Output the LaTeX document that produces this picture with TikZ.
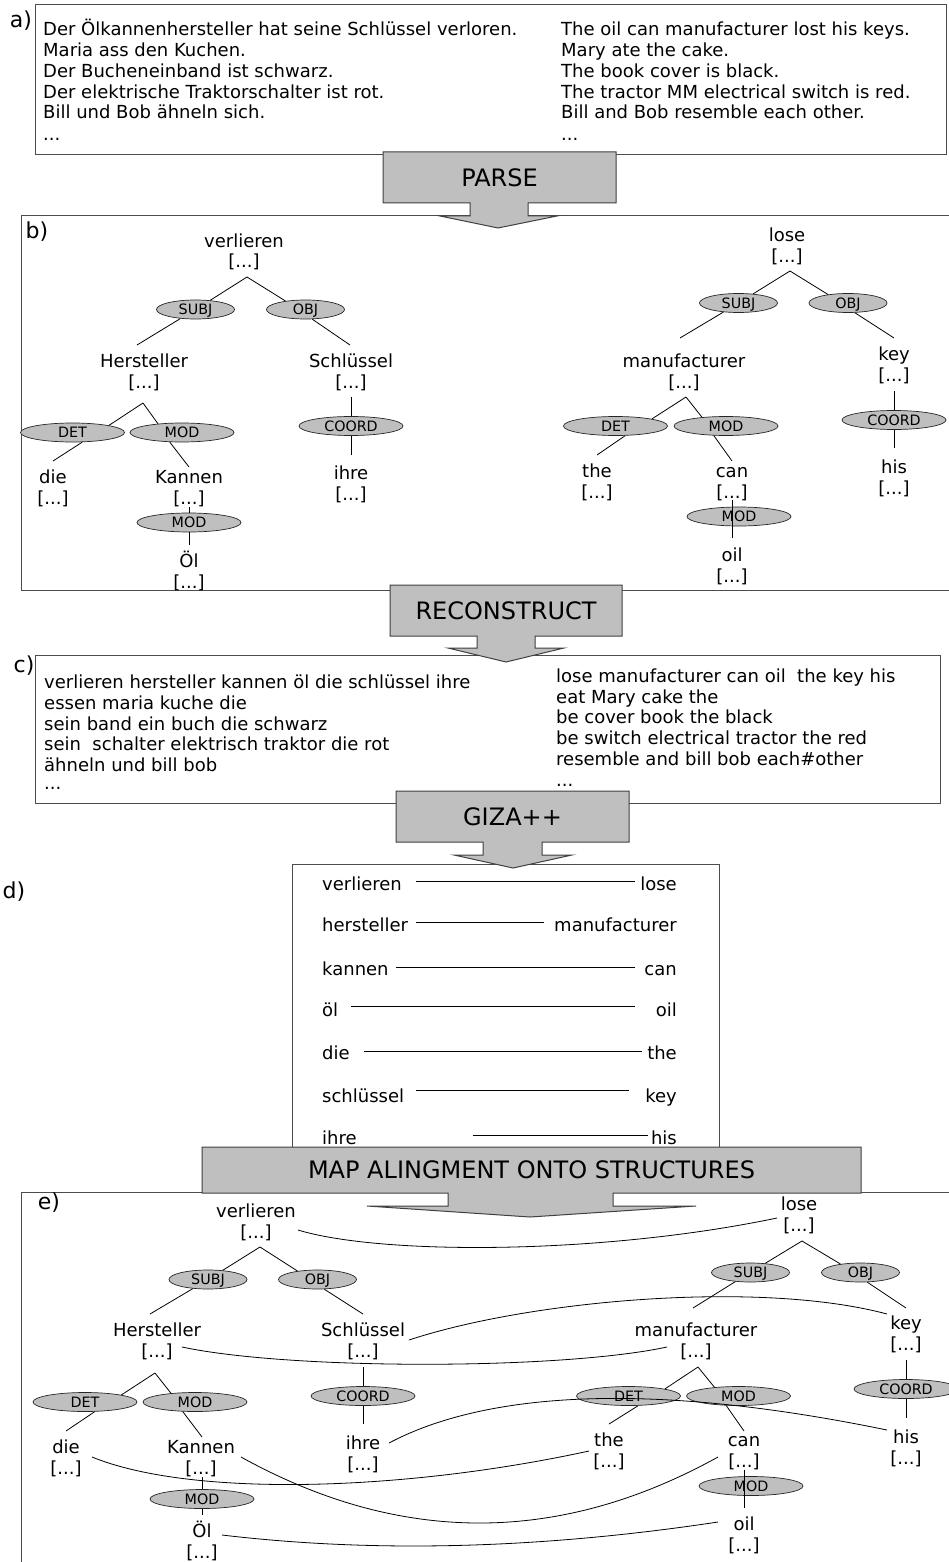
\documentclass[tikz,border=0pt]{standalone}
\usepackage{fontspec}
\setmainfont{DejaVu Sans}
\usetikzlibrary{shapes.geometric,calc}

\tikzset{
  boxline/.style={draw=black!70, line width=1pt},
  seclabel/.style={inner sep=0pt, font=\fontsize{22}{26}\selectfont},
  txt/.style={inner sep=0pt, anchor=base west, font=\fontsize{18}{21}\selectfont},
  wd/.style={inner sep=0pt, anchor=base, font=\fontsize{18}{21}\selectfont},
  dl/.style={inner sep=0pt, anchor=base west, font=\fontsize{18}{21}\selectfont},
  dr/.style={inner sep=0pt, anchor=base east, font=\fontsize{18}{21}\selectfont},
  rel/.style={ellipse, draw=black!85, fill=black!25, line width=0.7pt, inner sep=0pt,
              text height=10pt, text depth=0pt, font=\fontsize{14.3}{16}\selectfont},
  relS/.style={rel, minimum width=78pt, minimum height=19pt},
  relL/.style={rel, minimum width=104pt, minimum height=19pt},
  treeln/.style={line width=0.8pt},
  alink/.style={line width=0.8pt},
  steparrow/.style={fill=black!25, draw=black!75, line width=1pt, line join=miter},
  steplabel/.style={inner sep=0pt, font=\fontsize{24}{28}\selectfont}
}

\begin{document}
\begin{tikzpicture}[x=1pt,y=-1pt]
\useasboundingbox (0,0) rectangle (949,1562);
\fill[white] (0,0) rectangle (949,1562);

% ---------------- a) corpus ----------------
\draw[boxline] (35,5) rectangle (946,155);
\node[seclabel] (la) at (21,21) {a)};
\node[txt] (a1) at (43,36) {Der Ölkannenhersteller hat seine Schlüssel verloren.};
\node[txt] (a2) at (43,56.7) {Maria ass den Kuchen.};
\node[txt] (a3) at (43,77.4) {Der Bucheneinband ist schwarz.};
\node[txt] (a4) at (43,98.1) {Der elektrische Traktorschalter ist rot.};
\node[txt] (a5) at (43,118.8) {Bill und Bob ähneln sich.};
\node[txt] (a6) at (43,141) {...};
\node[txt] (e1) at (561,36) {The oil can manufacturer lost his keys.};
\node[txt] (e2) at (561,56.7) {Mary ate the cake.};
\node[txt] (e3) at (561,77.4) {The book cover is black.};
\node[txt] (e4) at (561,98.1) {The tractor MM electrical switch is red.};
\node[txt] (e5) at (561,118.8) {Bill and Bob resemble each other.};
\node[txt] (e6) at (561,141) {...};

% ---------------- b) parses ----------------
\draw[boxline] (949,216) -- (21,216) -- (21,590) -- (949,590);
\node[seclabel] (lb) at (37,232) {b)};

% German tree
\node[wd] (bVerl)  at (244,247.5) {verlieren};
\node[wd] (bVerlB) at (244,268)   {[...]};
\node[wd] (bHer)   at (144,367.5) {Hersteller};
\node[wd] (bHerB)  at (144,388)   {[...]};
\node[wd] (bSchl)  at (351,367.5) {Schlüssel};
\node[wd] (bSchlB) at (351,388)   {[...]};
\node[wd] (bDie)   at (53,483.5)  {die};
\node[wd] (bDieB)  at (53,504)    {[...]};
\node[wd] (bKan)   at (189,483.5) {Kannen};
\node[wd] (bKanB)  at (189,504)   {[...]};
\node[wd] (bIhre)  at (351,479.5) {ihre};
\node[wd] (bIhreB) at (351,500.5) {[...]};
\node[wd] (bOel)   at (189,567.5) {Öl};
\node[wd] (bOelB)  at (189,588)   {[...]};

\coordinate (bVerl-a) at (247,277);
\coordinate (bHer-t)  at (137,345);
\coordinate (bSchl-t) at (350,345);
\coordinate (bHer-a)  at (143,403);
\coordinate (bDie-t)  at (53,461);
\coordinate (bKan-t)  at (189,467);
\coordinate (bSchl-b) at (351,397);
\coordinate (bIhre-t) at (351,455);
\coordinate (bKan-b)  at (189,507);
\coordinate (bOel-t)  at (189,545);

\node[relS] (bSubj)  at (195.5,309.5) {SUBJ};
\node[relS] (bObj)   at (305.5,309.5) {OBJ};
\node[relL] (bDet)   at (72.5,432.5)  {DET};
\node[relL] (bMod)   at (182,432.5)   {MOD};
\node[relL] (bCoord) at (351,426)     {COORD};
\node[relL] (bModB)  at (189,522.5)   {MOD};

\draw[treeln] (bVerl-a) -- (bSubj.32);
\draw[treeln] (bVerl-a) -- (bObj.157);
\draw[treeln] (bSubj.211) -- (bHer-t);
\draw[treeln] (bObj.305) -- (bSchl-t);
\draw[treeln] (bHer-a) -- (bDet.11.5);
\draw[treeln] (bHer-a) -- (bMod.160);
\draw[treeln] (bDet.315) -- (bDie-t);
\draw[treeln] (bMod.218) -- (bKan-t);
\draw[treeln] (bSchl-b) -- (bCoord.north);
\draw[treeln] (bCoord.south) -- (bIhre-t);
\draw[treeln] (bKan-b) -- (bModB.north);
\draw[treeln] (bModB.south) -- (bOel-t);

% English tree
\node[wd] (bLose)  at (787,241.5) {lose};
\node[wd] (bLoseB) at (787,262.5) {[...]};
\node[wd] (bManu)  at (684,367.5) {manufacturer};
\node[wd] (bManuB) at (684,388)   {[...]};
\node[wd] (bKey)   at (894,360.5) {key};
\node[wd] (bKeyB)  at (894,381.5) {[...]};
\node[wd] (bThe)   at (597,477.5) {the};
\node[wd] (bTheB)  at (597,498)   {[...]};
\node[wd] (bCan)   at (732,477.5) {can};
\node[wd] (bCanB)  at (732,498)   {[...]};
\node[wd] (bHis)   at (894,473.5) {his};
\node[wd] (bHisB)  at (894,494)   {[...]};
\node[wd] (bOil)   at (732,561.5) {oil};
\node[wd] (bOilB)  at (732,582)   {[...]};

\coordinate (bLose-a) at (790,271);
\coordinate (bManu-t) at (680,338);
\coordinate (bKey-t)  at (894,338);
\coordinate (bManu-a) at (686,397);
\coordinate (bThe-t)  at (597,455);
\coordinate (bCan-t)  at (732,461);
\coordinate (bKey-b)  at (894,391);
\coordinate (bHis-t)  at (894,448);
\coordinate (bCan-b)  at (732,500);
\coordinate (bOil-t)  at (732,538);

\node[relS] (bSubjR)  at (738.5,303) {SUBJ};
\node[relS] (bObjR)   at (848,303)   {OBJ};
\node[relL] (bDetR)   at (615.5,426) {DET};
\node[relL] (bModR)   at (726,426)   {MOD};
\node[relL] (bCoordR) at (894,420)   {COORD};
\node[relL] (bModRB)  at (739,516.5) {MOD};

\draw[treeln] (bLose-a) -- (bSubjR.32);
\draw[treeln] (bLose-a) -- (bObjR.157);
\draw[treeln] (bSubjR.211) -- (bManu-t);
\draw[treeln] (bObjR.305) -- (bKey-t);
\draw[treeln] (bManu-a) -- (bDetR.11.5);
\draw[treeln] (bManu-a) -- (bModR.160);
\draw[treeln] (bDetR.315) -- (bThe-t);
\draw[treeln] (bModR.218) -- (bCan-t);
\draw[treeln] (bKey-b) -- (bCoordR.north);
\draw[treeln] (bCoordR.south) -- (bHis-t);
\draw[treeln] (bCan-b) -- (bOil-t);

% ---------------- c) reconstructed sentences ----------------
\draw[boxline] (35,655) rectangle (940,803);
\node[seclabel] (lc) at (24,666) {c)};
\node[txt] (c1) at (44,688.5) {verlieren hersteller kannen öl die schlüssel ihre};
\node[txt] (c2) at (44,709.3) {essen maria kuche die};
\node[txt] (c3) at (44,730.1) {sein band ein buch die schwarz};
\node[txt] (c4) at (44,750.9) {sein~ schalter elektrisch traktor die rot};
\node[txt] (c5) at (44,771.7) {ähneln und bill bob};
\node[txt] (c6) at (44,789)   {...};
\node[txt] (f1) at (556,682)   {lose manufacturer can oil~ the key his};
\node[txt] (f2) at (556,703)   {eat Mary cake the};
\node[txt] (f3) at (556,723.8) {be cover book the black};
\node[txt] (f4) at (556,744.6) {be switch electrical tractor the red};
\node[txt] (f5) at (556,765.4) {resemble and bill bob each\#other};
\node[txt] (f6) at (556,786)   {...};

% ---------------- d) word alignment ----------------
\draw[boxline] (292,1170) -- (292,864) -- (719,864) -- (719,1170);
\node[seclabel] (ld) at (14,892) {d)};
\node[dl] (dL1) at (322,890)  {verlieren};
\node[dl] (dL2) at (322,931)  {hersteller};
\node[dl] (dL3) at (322,975)  {kannen};
\node[dl] (dL4) at (322,1016) {öl};
\node[dl] (dL5) at (322,1059) {die};
\node[dl] (dL6) at (322,1102) {schlüssel};
\node[dl] (dL7) at (322,1144) {ihre};
\node[dr] (dR1) at (677,890)  {lose};
\node[dr] (dR2) at (677,931)  {manufacturer};
\node[dr] (dR3) at (677,975)  {can};
\node[dr] (dR4) at (677,1016) {oil};
\node[dr] (dR5) at (677,1059) {the};
\node[dr] (dR6) at (677,1102) {key};
\node[dr] (dR7) at (677,1144) {his};
\draw[alink] ($(dL1.base west)+(94,-9)$)  -- ($(dR1.base east)+(-42,-9)$);
\draw[alink] ($(dL2.base west)+(94,-9)$)  -- ($(dR2.base east)+(-133,-9)$);
\draw[alink] ($(dL3.base west)+(74,-8)$)  -- ($(dR3.base east)+(-42,-8)$);
\draw[alink] ($(dL4.base west)+(29,-10)$) -- ($(dR4.base east)+(-42,-10)$);
\draw[alink] ($(dL5.base west)+(42,-8)$)  -- ($(dR5.base east)+(-35,-8)$);
\draw[alink] ($(dL6.base west)+(94,-12)$) -- ($(dR6.base east)+(-48,-12)$);
\draw[alink] ($(dL7.base west)+(151,-9)$) -- ($(dR7.base east)+(-29,-9)$);

% ---------------- e) alignment mapped onto the trees ----------------
\draw[boxline] (949,1192) -- (21,1192) -- (21,1570);
\node[seclabel] (le) at (49,1203) {e)};

% German tree
\node[wd] (eVerl)  at (256,1217.5) {verlieren};
\node[wd] (eVerlB) at (256,1238)   {[...]};
\node[wd] (eHer)   at (157,1336.5) {Hersteller};
\node[wd] (eHerB)  at (157,1357)   {[...]};
\node[wd] (eSchl)  at (363,1336.5) {Schlüssel};
\node[wd] (eSchlB) at (363,1357)   {[...]};
\node[wd] (eDie)   at (66,1453.5)  {die};
\node[wd] (eDieB)  at (66,1474)    {[...]};
\node[wd] (eKan)   at (201,1453.5) {Kannen};
\node[wd] (eKanB)  at (201,1474)   {[...]};
\node[wd] (eIhre)  at (363,1449.5) {ihre};
\node[wd] (eIhreB) at (363,1470)   {[...]};
\node[wd] (eOel)   at (202,1537.5) {Öl};
\node[wd] (eOelB)  at (202,1558)   {[...]};

\coordinate (eVerl-a) at (260,1247);
\coordinate (eHer-t)  at (150,1314);
\coordinate (eSchl-t) at (363,1314);
\coordinate (eHer-a)  at (155,1373);
\coordinate (eDie-t)  at (66,1431);
\coordinate (eKan-t)  at (202,1437);
\coordinate (eSchl-b) at (363,1367);
\coordinate (eIhre-t) at (363,1424);
\coordinate (eKan-b)  at (202,1477);
\coordinate (eOel-t)  at (202,1515);

\node[relS] (eSubj)  at (208,1279.5)   {SUBJ};
\node[relS] (eObj)   at (317.5,1279.5) {OBJ};
\node[relL] (eDet)   at (85,1402)      {DET};
\node[relL] (eMod)   at (195,1402)     {MOD};
\node[relL] (eCoord) at (363,1396)     {COORD};
\node[relL] (eModB)  at (202,1499)     {MOD};

\draw[treeln] (eVerl-a) -- (eSubj.32);
\draw[treeln] (eVerl-a) -- (eObj.157);
\draw[treeln] (eSubj.211) -- (eHer-t);
\draw[treeln] (eObj.305) -- (eSchl-t);
\draw[treeln] (eHer-a) -- (eDet.11.5);
\draw[treeln] (eHer-a) -- (eMod.160);
\draw[treeln] (eDet.315) -- (eDie-t);
\draw[treeln] (eMod.218) -- (eKan-t);
\draw[treeln] (eSchl-b) -- (eCoord.north);
\draw[treeln] (eCoord.south) -- (eIhre-t);
\draw[treeln] (eKan-b) -- (eModB.north);
\draw[treeln] (eModB.south) -- (eOel-t);

% English tree
\node[wd] (eLose)  at (799,1210.5) {lose};
\node[wd] (eLoseB) at (799,1231.5) {[...]};
\node[wd] (eManu)  at (696,1336.5) {manufacturer};
\node[wd] (eManuB) at (696,1357.5) {[...]};
\node[wd] (eKey)   at (906,1329.5) {key};
\node[wd] (eKeyB)  at (906,1350)   {[...]};
\node[wd] (eThe)   at (609,1446.5) {the};
\node[wd] (eTheB)  at (609,1467.5) {[...]};
\node[wd] (eCan)   at (744,1446.5) {can};
\node[wd] (eCanB)  at (744,1467.5) {[...]};
\node[wd] (eHis)   at (906,1443.5) {his};
\node[wd] (eHisB)  at (906,1464)   {[...]};
\node[wd] (eOil)   at (744,1530.5) {oil};
\node[wd] (eOilB)  at (744,1551.5) {[...]};

\coordinate (eLose-a) at (802,1241);
\coordinate (eManu-t) at (693,1308);
\coordinate (eKey-t)  at (906,1308);
\coordinate (eManu-a) at (698,1367);
\coordinate (eThe-t)  at (609,1424);
\coordinate (eCan-t)  at (744,1431);
\coordinate (eKey-b)  at (906,1360);
\coordinate (eHis-t)  at (906,1418);
\coordinate (eCan-b)  at (744,1470);
\coordinate (eOil-t)  at (744,1508);

\node[relS] (eSubjR)  at (750.5,1272.5) {SUBJ};
\node[relS] (eObjR)   at (860.5,1272.5) {OBJ};
\node[relL] (eDetR)   at (628.5,1396)   {DET};
\node[relL] (eModR)   at (738.5,1396)   {MOD};
\node[relL] (eCoordR) at (906,1389)     {COORD};
\node[relL] (eModRB)  at (751,1486)     {MOD};

\draw[treeln] (eLose-a) -- (eSubjR.32);
\draw[treeln] (eLose-a) -- (eObjR.157);
\draw[treeln] (eSubjR.211) -- (eManu-t);
\draw[treeln] (eObjR.305) -- (eKey-t);
\draw[treeln] (eManu-a) -- (eDetR.11.5);
\draw[treeln] (eManu-a) -- (eModR.160);
\draw[treeln] (eDetR.315) -- (eThe-t);
\draw[treeln] (eModR.218) -- (eCan-t);
\draw[treeln] (eKey-b) -- (eCoordR.north);
\draw[treeln] (eCoordR.south) -- (eHis-t);
\draw[treeln] (eCan-b) -- (eOil-t);

% alignment links between the two trees
\draw[alink] ($(eVerlB.base)+(42,-8)$) .. controls (380,1255) and (600,1255) .. ($(eLose.base)+(-22,7.5)$);
\draw[alink] ($(eSchl.base)+(46,3.5)$) .. controls (530,1300) and (760,1280) .. ($(eKey.base)+(-19,-15.5)$);
\draw[alink] ($(eHerB.base)+(25,-10)$) .. controls (290,1370) and (560,1370) .. ($(eManuB.base)+(-29,-10.5)$);
\draw[alink] ($(eIhre.base)+(26,-6.5)$) .. controls (470,1400) and (620,1375) .. ($(eHis.base)+(-19,-13.5)$);
\draw[alink] ($(eDie.base)+(26,3.5)$) .. controls (190,1497) and (400,1492) .. ($(eThe.base)+(-20,4.5)$);
\draw[alink] ($(eKan.base)+(40,3.5)$) .. controls (400,1545) and (559,1545) .. ($(eCan.base)+(-26,10.5)$);
\draw[alink] ($(eOel.base)+(20,-2.5)$) .. controls (374,1553) and (539,1549) .. ($(eOil.base)+(-26,-8.5)$);

% ---------------- processing steps ----------------
\draw[steparrow] (383,152) -- (616,152) -- (616,203) -- (528,203) -- (528,216) -- (557,216)
  -- (498,228) -- (440,216) -- (470,216) -- (470,203) -- (383,203) -- cycle;
\node[steplabel] (sParse) at (499.5,177.5) {PARSE};

\draw[steparrow] (390,585) -- (622,585) -- (622,636) -- (535,636) -- (535,648) -- (564,648)
  -- (506,662) -- (448,648) -- (477,648) -- (477,636) -- (390,636) -- cycle;
\node[steplabel] (sRec) at (506,610.5) {RECONSTRUCT};

\draw[steparrow] (396,791) -- (629,791) -- (629,842) -- (542,842) -- (542,855) -- (572,855)
  -- (513,868) -- (454,855) -- (483,855) -- (483,842) -- (396,842) -- cycle;
\node[steplabel] (sGiza) at (512.5,816.5) {GIZA++};

\draw[steparrow] (202,1147) -- (861,1147) -- (861,1193) -- (613,1193) -- (613,1206) -- (696,1206)
  -- (530,1217) -- (367,1206) -- (448,1206) -- (448,1193) -- (202,1193) -- cycle;
\node[steplabel] (sMap) at (531.5,1170) {MAP ALINGMENT ONTO STRUCTURES};
\end{tikzpicture}
\end{document}
